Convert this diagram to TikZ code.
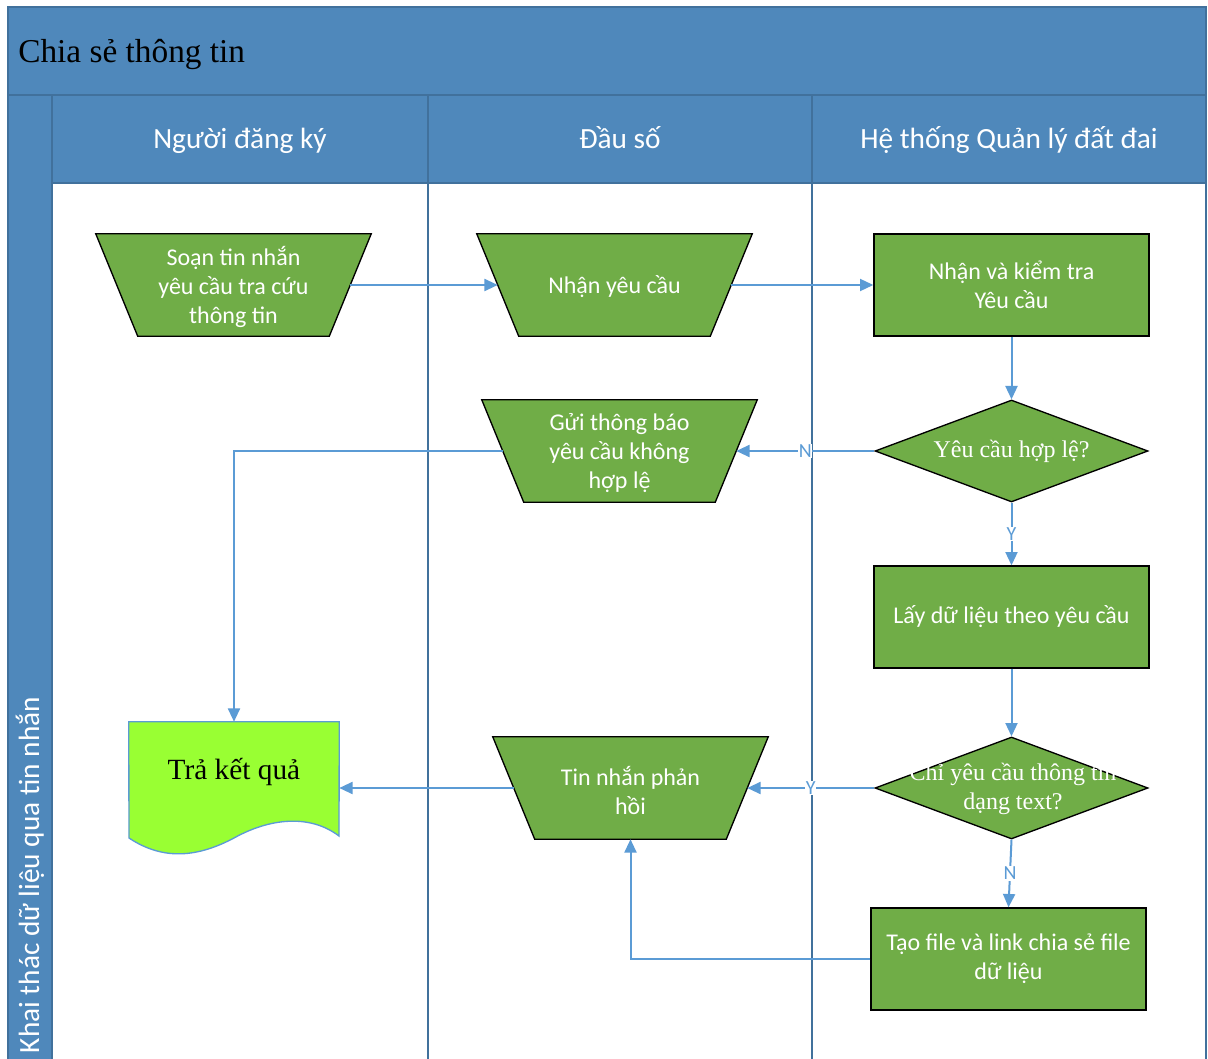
\documentclass[tikz,border=0pt]{standalone}
\usepackage{fontspec}
\setmainfont{Liberation Serif}
\newfontfamily\carl{Carlito}
\usetikzlibrary{shapes.geometric,arrows.meta}
\definecolor{bandblue}{HTML}{4F88BB}
\definecolor{bandline}{HTML}{41719C}
\definecolor{boxgreen}{HTML}{70AD47}
\definecolor{limegreen}{HTML}{99FF33}
\definecolor{connblue}{HTML}{5B9BD5}
\newcommand{\mkmanual}[3]{%
  \node[manualbox] (#1) at #2 {};
  \draw[shapeline] (#1.north west) -- (#1.north east) -- ([xshift=-31.5pt]#1.south east)
     -- ([xshift=31.5pt]#1.south west) -- cycle;
  \node[boxtext] (#1t) at ([yshift=-1.5pt]#1.center) {#3};}
\begin{document}
\begin{tikzpicture}[x=0.75pt,y=-0.75pt,
  band/.style={fill=bandblue, draw=bandline, line width=1.2pt},
  headtext/.style={text=white, font=\carl\fontsize{22}{26}\selectfont},
  shapeline/.style={draw=black, line width=1pt, fill=boxgreen},
  boxtext/.style={text=white, font=\carl\fontsize{18}{21.75}\selectfont, align=center, inner sep=0pt},
  procbox/.style={rectangle, shapeline, boxtext,
    minimum width=206.25pt, minimum height=76.5pt},
  manualbox/.style={rectangle, minimum width=206.25pt, minimum height=76.5pt, inner sep=0pt},
  decision/.style={diamond, shapeline, minimum width=204.75pt, minimum height=76.5pt, inner sep=0pt},
  dectext/.style={text=white, font=\fontsize{18}{21.75}\selectfont, align=center, inner sep=0pt},
  flow/.style={draw=connblue, line width=1.5pt, -{Triangle[length=10pt,width=9pt]}},
  lbl/.style={text=connblue, font=\carl\fontsize{15}{17}\selectfont, fill=white, inner sep=0.5pt},
  laneline/.style={draw=bandline, line width=1.2pt}
]
\useasboundingbox (0,0) rectangle (1208,1059);
% frame and bands
\fill[white] (8,183) rectangle (1206,1059);
\draw[band] (8,7) rectangle (1206,95);
\draw[band] (8,95) rectangle (52,1065);
\draw[band] (52,95) rectangle (428,183);
\draw[band] (428,95) rectangle (812,183);
\draw[band] (812,95) rectangle (1206,183);
\draw[laneline] (428,183) -- (428,1065);
\draw[laneline] (812,183) -- (812,1065);
\draw[laneline] (1206,183) -- (1206,1065);
\node[anchor=base west, font=\fontsize{25}{30}\selectfont, inner sep=0pt] (title) at (18,63) {Chia sẻ thông tin};
\node[headtext, anchor=base] (h1) at (240,149) {Người đăng ký};
\node[headtext, anchor=base] (h2) at (620,149) {Đầu số};
\node[headtext, anchor=base] (h3) at (1009,149) {Hệ thống Quản lý đất đai};
\node[headtext, rotate=90] (pool) at (30,875) {Khai thác dữ liệu qua tin nhắn};

% shapes
\mkmanual{soan}{(233.5,285)}{Soạn tin nhắn\\yêu cầu tra cứu\\thông tin}
\mkmanual{nhan}{(614.5,285)}{Nhận yêu cầu}
\node[procbox] (kt) at (1011.5,285) {Nhận và kiểm tra\\Yêu cầu};
\node[decision] (d1) at (1011.5,451) {};
\node[dectext] (d1t) at (d1) {Yêu cầu hợp lệ?};
\mkmanual{gui}{(619.5,451)}{Gửi thông báo\\yêu cầu không\\hợp lệ}
\node[procbox] (lay) at (1011.5,617) {Lấy dữ liệu theo yêu cầu};
\node[decision] (d2) at (1011.5,788) {};
\node[dectext] (d2t) at (1013,789) {Chỉ yêu cầu thông tin\\dạng text?};
\mkmanual{tin}{(630.5,788)}{Tin nhắn phản\\hồi}
\node[procbox] (tao) at (1008.5,959) {Tạo file và link chia sẻ file\\dữ liệu};
\node[minimum width=157.5pt, minimum height=99pt, inner sep=0pt] (tra) at (234,788) {};
\draw[draw=connblue, line width=1pt, fill=limegreen]
  (tra.north west) -- (tra.north east) -- (339,836)
  .. controls (310,814) and (270,818) .. (234,838)
  .. controls (200,856) and (165,862) .. (129,838) -- cycle;
\node[font=\fontsize{22}{26}\selectfont, inner sep=0pt] (trat) at (234,772) {Trả kết quả};

% connectors
\draw[flow] ([xshift=-15.75pt]soan.east) -- ([xshift=15.75pt]nhan.west);
\draw[flow] ([xshift=-15.75pt]nhan.east) -- (kt);
\draw[flow] (kt) -- (d1);
\draw[flow] (d1) -- node[lbl] {N} ([xshift=-15.75pt]gui.east);
\draw[flow] (d1) -- node[lbl] {Y} (lay);
\draw[flow] ([xshift=15.75pt]gui.west) -| (tra);
\draw[flow] (lay) -- (d2);
\draw[flow] (d2) -- node[lbl] {Y} ([xshift=-15.75pt]tin.east);
\draw[flow] (d2.south) -- node[lbl] {N} (tao.north);
\draw[flow] (tao) -| (tin.south);
\draw[flow] ([xshift=15.75pt]tin.west) -- (tra);
\end{tikzpicture}
\end{document}
